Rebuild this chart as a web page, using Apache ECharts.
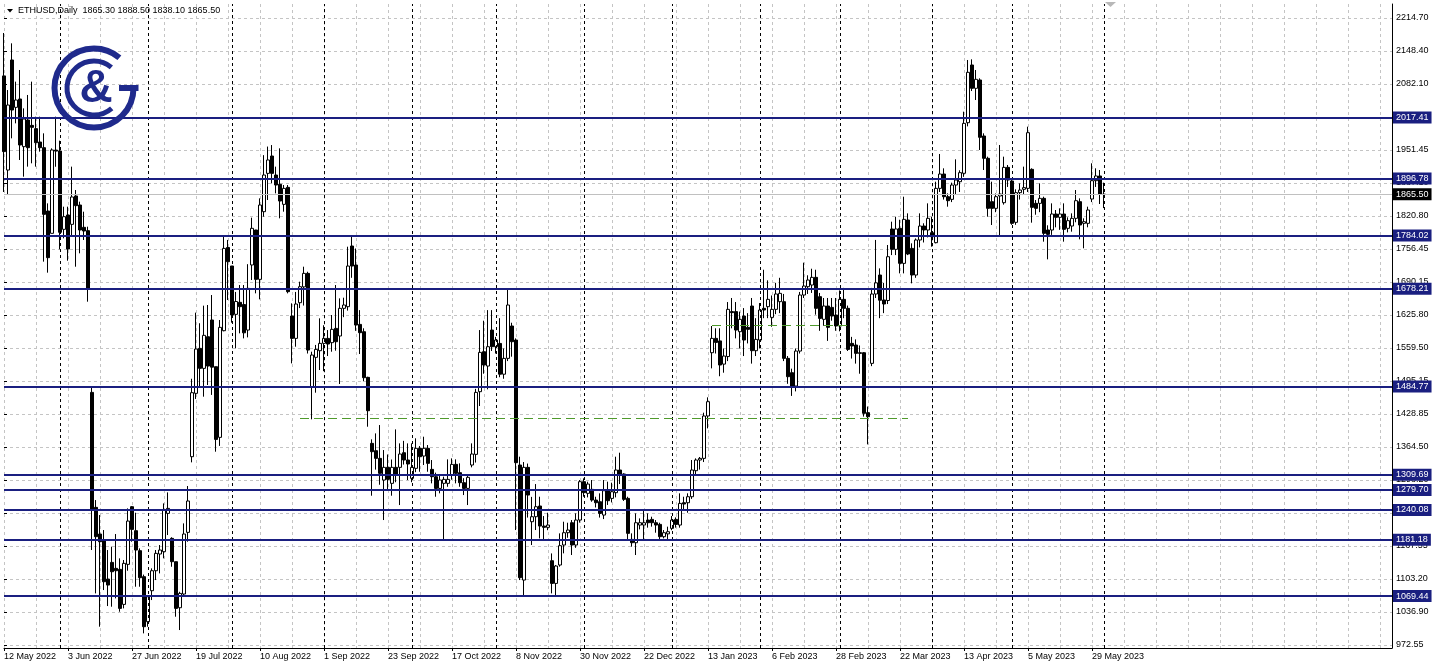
<!DOCTYPE html>
<html><head><meta charset="utf-8">
<script src="https://cdn.jsdelivr.net/npm/echarts@6.0.0/dist/echarts.min.js"></script>
<style>html,body{margin:0;padding:0;background:#fff;overflow:hidden}#c{width:1437px;height:669px}</style>
</head><body><div id="c"></div>
<script>
// ---------- DATA ----------
const symbolTitle = 'ETHUSD,Daily  1865.30 1888.50 1838.10 1865.50';
const open = [
2100,1913.5,2131.5,2037.7,2054.2,1959.8,2012.6,2002.0,1995.5,1969.0,
1957.8,1832.3,1788.1,1953.0,1951.2,1796.0,1824.4,1805.9,1862.1,1844.2,
1800.0,1793.4,1473.0,1245.2,1192.4,1178.5,1103.2,1136.2,1124.4,1122.4,
1053.0,1132.3,1246.5,1199.0,1159.4,1107.9,1018.7,1080.1,1119.7,1152.8,
1157.4,1233.3,1183.8,1137.6,1046.4,1073.5,1195.7,1345.6,1471.1,1560.2,
1520.6,1583.3,1616.4,1523.9,1383.9,1595.2,1760.0,1723.4,1627.6,1651.4,
1647.0,1596.5,1725.4,1794.7,1696.9,1831.0,1906.9,1941.3,1903.6,1885.2,
1845.5,1879.2,1624.3,1580.0,1650.7,1682.0,1708.8,1484.3,1542.4,1555.6,
1570.1,1580.0,1571.5,1599.8,1584.7,1639.5,1642.8,1763.0,1725.3,1607.7,
1593.2,1502.8,1372.0,1357.5,1342.3,1299.4,1324.5,1292.8,1324.5,1324.5,
1353.5,1339.0,1302.7,1322.5,1362.2,1346.9,1362.2,1320.5,1305.9,1282.8,
1292.8,1292.8,1309.3,1330.4,1313.9,1294.1,1282.8,1329.1,1350.2,1474.4,
1553.6,1525.2,1596.5,1563.5,1570.0,1509.0,1540.4,1604.5,1576.7,1329.1,
1101.2,1324.5,1216.8,1226.7,1247.9,1208.2,1205.6,1139.5,1094.6,1131.0,
1170.6,1195.0,1214.8,1170.6,1220.1,1296.1,1273.0,1280.9,1259.7,1256.4,
1230.0,1278.2,1263.0,1274.3,1319.2,1311.3,1263.0,1181.8,1175.2,1210.2,
1210.2,1220.1,1221.4,1214.8,1211.5,1187.1,1192.7,1203.6,1221.4,1210.2,
1254.4,1254.4,1266.3,1317.9,1339.0,1342.3,1426.2,1551.6,1580.0,1575.0,
1529.0,1544.0,1633.0,1633.0,1593.2,1624.3,1601.8,1644.1,1555.6,1576.7,
1639.5,1642.8,1621.6,1637.5,1652.7,1652.7,1540.4,1512.0,1485.6,1554.9,
1665.9,1682.4,1685.7,1700.9,1662.6,1617.7,1644.1,1641.4,1626.3,1604.5,
1657.3,1639.5,1570.1,1566.8,1551.6,1551.6,1432.8,1530.5,1667.9,1705.5,
1656.0,1655.0,1796.7,1756.4,1798.0,1728.6,1814.5,1758.3,1705.5,1774.9,
1802.6,1794.7,1789.4,1769.6,1877.2,1905.6,1860.7,1855.4,1883.8,1890.4,
1907.0,2007.3,2121.6,2075.4,2091.9,1980.9,1936.7,1850.8,1837.6,1862.1,
1848.8,1918.8,1891.8,1809.9,1868.7,1875.3,1877.2,1914.9,1847.5,1847.5,
1857.4,1794.7,1794.7,1826.4,1819.8,1826.4,1798.0,1802.6,1817.8,1850.8,
1807.9,1807.9,1856.1,1892.4,1901.7,1865.3];
const high = [
2185,2072,2164.5,2088.6,2111.7,2035.7,2062.2,2088.6,2019.2,2019.2,
1986.2,1847.5,1956.5,2019.2,1971.7,1840.9,1840.9,1920.2,1873.9,1850.8,
1831.0,1801.3,1484.3,1259.7,1230.0,1200.3,1160.7,1167.3,1192.4,1144.2,
1140.9,1243.2,1247.8,1234.6,1164.0,1112.0,1071.5,1124.4,1160.7,1170.6,
1253.1,1274.9,1186.0,1137.6,1078.0,1213.5,1287.5,1500.0,1631.0,1610.0,
1644.8,1646.1,1665.9,1523.9,1616.4,1783.0,1775.0,1723.4,1672.0,1685.7,
1685.7,1727.0,1819.1,1795.0,1857.4,1943.0,1960.0,1963.0,1920.2,1956.5,
1883.8,1883.8,1649.4,1672.0,1692.3,1722.0,1712.0,1553.6,1567.0,1619.7,
1606.0,1596.5,1626.3,1685.7,1659.3,1660.6,1761.6,1784.8,1758.0,1636.0,
1600.0,1504.0,1380.0,1391.8,1408.3,1358.8,1350.0,1340.0,1399.7,1372.0,
1377.0,1372.0,1372.0,1382.0,1366.7,1385.2,1368.7,1339.0,1314.0,1307.3,
1306.0,1340.3,1342.3,1340.3,1332.4,1303.0,1307.3,1372.0,1480.0,1596.5,
1615.0,1636.0,1636.0,1583.0,1620.0,1560.0,1679.0,1611.0,1580.0,1345.6,
1335.0,1332.0,1266.0,1291.4,1266.3,1228.0,1234.6,1154.0,1131.0,1193.7,
1216.8,1214.8,1220.1,1233.3,1299.4,1302.7,1296.0,1299.4,1266.3,1273.0,
1299.4,1296.1,1294.1,1345.6,1353.5,1312.6,1266.3,1193.7,1233.3,1223.4,
1239.9,1233.3,1226.7,1220.1,1214.8,1200.3,1207.0,1228.0,1225.4,1273.0,
1266.3,1273.0,1339.0,1342.3,1345.0,1432.8,1463.2,1604.5,1600.0,1600.0,
1560.0,1652.0,1660.0,1652.0,1633.0,1640.0,1630.0,1660.0,1620.0,1650.0,
1716.0,1695.0,1665.0,1690.0,1700.0,1668.0,1545.0,1520.0,1560.0,1672.0,
1730.0,1705.0,1718.0,1716.0,1670.0,1660.0,1660.0,1660.0,1660.0,1675.0,
1680.0,1645.0,1583.0,1578.0,1566.0,1553.0,1445.0,1680.0,1775.0,1718.7,
1690.0,1765.0,1811.2,1821.0,1815.0,1860.7,1827.7,1768.3,1778.0,1827.7,
1808.0,1847.5,1821.1,1890.4,1945.3,1916.9,1867.3,1888.5,1934.7,1913.0,
2029.1,2131.5,2132.8,2111.7,2095.2,1986.2,1940.0,1890.4,1867.0,1963.1,
1940.0,1923.5,1893.7,1875.3,1887.1,1920.2,1999.4,1916.9,1854.1,1887.1,
1860.7,1804.0,1847.5,1834.3,1837.6,1847.5,1819.8,1827.7,1873.9,1857.4,
1817.8,1840.9,1926.8,1916.9,1913.6,1888.5];
const low = [
1870,1864,1976.3,2006.0,1933.4,1900.3,1920.2,1926.8,1920.2,1949.9,
1732.0,1710.2,1788.1,1920.0,1756.4,1778.2,1733.9,1781.5,1722.0,1748.5,
1774.9,1652.7,1160.7,1074.8,1008.8,1081.4,1049.7,1048.4,1064.9,1038.5,
1045.1,1119.7,1177.2,1088.0,1088.0,995.6,1008.8,1061.6,1101.2,1114.4,
1144.2,1190.4,1127.6,1028.6,1002.2,1071.5,1177.2,1334.4,1460.0,1484.3,
1464.5,1487.6,1468.0,1355.5,1367.0,1594.0,1656.0,1611.1,1560.2,1590.0,
1580.0,1582.0,1695.6,1669.2,1657.3,1821.0,1854.1,1887.1,1867.3,1817.8,
1831.0,1669.2,1530.5,1563.5,1640.0,1645.0,1550.0,1419.6,1472.4,1517.3,
1515.0,1545.0,1553.6,1555.6,1489.6,1622.0,1635.0,1700.0,1595.0,1549.0,
1495.0,1405.0,1268.3,1320.0,1290.0,1220.1,1280.0,1268.3,1295.0,1249.8,
1330.0,1299.4,1295.0,1315.0,1315.8,1329.1,1315.8,1292.8,1266.3,1273.0,
1180.5,1286.0,1300.0,1292.8,1286.0,1269.6,1249.8,1324.5,1334.0,1446.0,
1510.0,1479.0,1555.0,1550.0,1503.0,1500.0,1535.0,1543.7,1200.3,1101.2,
1071.5,1225.0,1170.6,1200.3,1183.8,1181.8,1200.0,1074.8,1071.5,1127.7,
1154.1,1185.0,1150.8,1165.0,1215.0,1266.3,1265.0,1256.4,1245.0,1225.0,
1222.0,1250.0,1255.0,1265.0,1291.4,1258.0,1180.0,1167.3,1150.8,1201.6,
1181.8,1205.0,1207.0,1195.0,1180.5,1183.8,1180.5,1200.0,1205.0,1205.0,
1240.0,1234.6,1262.0,1310.0,1320.0,1335.0,1401.7,1520.6,1550.0,1505.0,
1512.0,1535.0,1600.0,1580.0,1560.0,1545.0,1570.0,1530.0,1545.0,1560.0,
1620.0,1620.0,1603.0,1628.0,1630.0,1535.0,1490.0,1466.0,1475.0,1550.0,
1660.0,1668.0,1670.0,1627.0,1595.0,1605.0,1575.0,1615.0,1595.0,1594.0,
1620.0,1555.0,1540.0,1530.0,1510.0,1425.0,1370.0,1525.0,1660.0,1620.0,
1630.0,1648.0,1745.0,1745.0,1708.8,1708.8,1745.0,1689.0,1700.0,1760.3,
1770.0,1780.0,1761.7,1768.3,1870.0,1855.0,1840.9,1850.0,1864.0,1870.0,
1900.0,2000.0,2070.0,2052.2,1953.2,1913.6,1821.1,1804.6,1830.0,1784.8,
1845.0,1880.0,1805.0,1805.0,1855.0,1865.0,1870.0,1809.2,1825.0,1830.0,
1771.6,1736.6,1785.0,1800.0,1795.0,1771.6,1790.0,1791.4,1810.0,1776.2,
1758.4,1800.0,1850.0,1880.0,1846.2,1838.1];
const close = [
1950,2042.3,2032.4,2052.2,1963.1,2014.6,1957.8,1998.1,1967.7,1957.8,
1825.7,1739.9,1953.2,1951.0,1790.1,1821.1,1757.0,1860.1,1842.9,1794.7,
1792.7,1677.1,1241.2,1187.1,1177.2,1097.9,1091.3,1117.7,1119.7,1045.1,
1134.3,1218.1,1201.6,1160.7,1105.9,1008.8,1068.2,1119.7,1154.1,1160.7,
1239.9,1243.2,1137.6,1045.1,1074.8,1192.4,1257.8,1472.4,1558.9,1520.6,
1586.0,1525.2,1523.0,1379.9,1601.8,1758.3,1731.9,1626.3,1653.0,1642.8,
1591.0,1679.1,1798.0,1696.9,1844.2,1903.6,1933.4,1906.9,1883.8,1852.1,
1877.2,1672.5,1580.0,1648.1,1682.4,1708.8,1556.9,1547.0,1558.2,1570.1,
1580.0,1568.8,1597.9,1573.4,1639.5,1646.1,1723.3,1723.3,1606.4,1591.3,
1502.1,1436.7,1355.5,1342.3,1312.6,1324.5,1300.7,1324.5,1310.0,1350.9,
1339.0,1331.1,1324.5,1362.2,1345.6,1362.2,1332.4,1306.0,1282.8,1299.4,
1300.7,1300.7,1330.4,1312.6,1294.1,1282.8,1304.7,1350.9,1473.0,1552.3,
1527.2,1563.5,1563.5,1576.7,1509.0,1540.4,1646.1,1573.4,1333.7,1105.9,
1324.5,1269.6,1226.7,1246.5,1208.2,1205.6,1210.2,1094.6,1129.0,1169.3,
1195.0,1200.3,1170.6,1220.1,1296.1,1274.3,1291.4,1259.7,1254.4,1233.3,
1278.2,1258.4,1276.2,1319.2,1309.3,1261.1,1193.7,1175.2,1214.8,1214.8,
1214.8,1214.8,1214.8,1210.2,1187.1,1195.0,1197.0,1220.1,1211.5,1253.1,
1251.8,1266.3,1319.2,1339.0,1342.3,1426.2,1454.6,1580.0,1572.0,1527.2,
1545.0,1637.5,1631.0,1596.5,1617.7,1576.7,1597.9,1555.6,1578.0,1636.2,
1636.2,1657.3,1637.5,1667.9,1669.2,1540.4,1504.1,1485.6,1554.9,1665.9,
1683.7,1695.6,1700.9,1639.5,1619.6,1644.1,1601.8,1624.3,1604.5,1657.3,
1639.5,1558.2,1564.9,1550.3,1550.3,1431.5,1424.8,1667.9,1690.0,1655.6,
1648.1,1741.8,1756.4,1796.7,1728.6,1815.8,1747.1,1705.5,1774.9,1802.6,
1794.7,1817.8,1781.5,1877.2,1905.6,1860.7,1852.8,1883.8,1893.7,1908.3,
2006.0,2107.1,2075.4,2093.2,1978.3,1936.7,1837.6,1837.6,1860.7,1866.0,
1918.8,1893.7,1807.9,1868.7,1873.9,1878.6,1987.5,1839.6,1837.6,1857.4,
1788.1,1786.1,1826.4,1819.8,1826.4,1796.0,1813.2,1817.8,1852.8,1804.6,
1811.2,1834.3,1892.4,1901.7,1866.0,1865.5];

const yTickLabels = ["972.55","1036.90","1103.20","1167.55","1233.85","1298.20","1364.50","1428.85","1495.15","1559.50","1625.80","1690.15","1756.45","1820.80","1887.10","1951.45","2017.75","2082.10","2148.40","2214.70"];
const xTickLabels = ["12 May 2022","3 Jun 2022","27 Jun 2022","19 Jul 2022","10 Aug 2022","1 Sep 2022","23 Sep 2022","17 Oct 2022","8 Nov 2022","30 Nov 2022","22 Dec 2022","13 Jan 2023","6 Feb 2023","28 Feb 2023","22 Mar 2023","13 Apr 2023","5 May 2023","29 May 2023"];
const levelPrices = [2017.41,1896.78,1784.02,1678.21,1484.77,1309.69,1279.70,1240.08,1181.18,1069.44];
const bidPrice = 1865.50;
const trendFrom = [74, 177];
const trendTo = [226, 211];
const trendPrice = [1421.3, 1605.5];

// ---------- AXIS SETUP ----------
const SLOTS = 348;
const LABEL_EVERY = 16;
const GRID_EVERY = 8;
const tickBase = 972.55, tickStep = (2214.70 - 972.55) / 19;
const categories = [];
(function(){ const d = new Date(Date.UTC(2022,4,12));
  while (categories.length < SLOTS) { const w = d.getUTCDay(); if (w !== 0 && w !== 6) categories.push(d.toISOString().slice(0,10)); d.setUTCDate(d.getUTCDate()+1); } })();
const candleData = open.map((o,i)=>[o, close[i], low[i], high[i]]);
const monthSep = [];
for (let i=1;i<open.length;i++) if (categories[i].slice(5,7)!==categories[i-1].slice(5,7)) monthSep.push(i);

const FONT = '"Liberation Sans", Arial, sans-serif';
const NAVY = '#1a1f80';
const LOGO = '#1f2a8c';
const GREEN = '#4f9a2c';
const lastLabelIdx = (xTickLabels.length-1)*LABEL_EVERY;

const mlData = [];
monthSep.forEach(i => mlData.push({xAxis: categories[i], lineStyle:{color:'#000', width:1, type:[3,3]}, label:{show:false}}));
levelPrices.forEach(v => mlData.push({yAxis: v, lineStyle:{color:NAVY, width:2, type:'solid'},
  label:{show:true, position:'end', distance:1, formatter: v.toFixed(2), color:'#fff', backgroundColor:NAVY, padding:[2,3,1,3], fontSize:9, fontFamily:FONT}}));
mlData.push({yAxis: bidPrice, lineStyle:{color:'#c0c0c0', width:1, type:'solid'},
  label:{show:true, position:'end', distance:1, formatter: bidPrice.toFixed(2), color:'#fff', backgroundColor:'#000', padding:[2,3,1,3], fontSize:9, fontFamily:FONT}});
trendFrom.forEach((f,k) => mlData.push([
  {coord:[categories[f], trendPrice[k]], lineStyle:{color:GREEN, width:1, type:[9,5]}, label:{show:false}},
  {coord:[categories[trendTo[k]], trendPrice[k]]}]));

const chart = echarts.init(document.getElementById('c'));
chart.setOption({
  animation:false,
  backgroundColor:'#ffffff',
  textStyle:{fontFamily:FONT},
  title:{text:symbolTitle, left:18, top:6, padding:0, textStyle:{fontSize:9, fontWeight:'normal', color:'#000', fontFamily:FONT}},
  grid:[
    {left:4, right:45, top:4, bottom:21, containLabel:false, outerBoundsMode:'none'},
    {left:4, right:45, top:-15, bottom:-9, containLabel:false, outerBoundsMode:'none'}
  ],
  xAxis:[
    {type:'category', gridIndex:0, data:categories, boundaryGap:false,
     axisLine:{show:true, onZero:false, lineStyle:{color:'#000', width:1}},
     axisTick:{show:true, length:3, interval:(i)=> i%LABEL_EVERY===0 && i<=lastLabelIdx, lineStyle:{color:'#000'}},
     axisLabel:{show:true, interval:(i)=> i%LABEL_EVERY===0 && i<=lastLabelIdx,
       formatter:(v,i)=> xTickLabels[i/LABEL_EVERY] || '', align:'left', fontSize:9, color:'#000', margin:4, fontFamily:FONT},
     splitLine:{show:true, interval:(i)=> i%GRID_EVERY===0, lineStyle:{color:'#c4c4c4', width:1, type:[3,3]}}},
    {type:'value', gridIndex:1, show:false, min:0, max:1}
  ],
  yAxis:[
    {type:'value', gridIndex:0, position:'right', min: tickBase - 3*tickStep/33, max: tickBase + 19*tickStep + 14*tickStep/33,
     axisLine:{show:true, lineStyle:{color:'#000'}}, axisTick:{show:false}, axisLabel:{show:false}, splitLine:{show:false}},
    {type:'value', gridIndex:1, position:'right', min: tickBase - tickStep, max: tickBase + 20*tickStep, interval: tickStep,
     axisLine:{show:false}, axisTick:{show:true, length:3, lineStyle:{color:'#000'}},
     axisLabel:{show:true, margin:4, fontSize:9, color:'#000', fontFamily:FONT,
       formatter:(v)=>{ const k = Math.round((v - tickBase)/tickStep); return (k>=0 && k<yTickLabels.length) ? yTickLabels[k] : ''; }},
     splitLine:{show:true, lineStyle:{color:'#c4c4c4', width:1, type:[3,3]}}}
  ],
  series:[{
    type:'candlestick', xAxisIndex:0, yAxisIndex:0, data:candleData, barWidth:3,
    itemStyle:{color:'#ffffff', color0:'#000000', borderColor:'#000000', borderColor0:'#000000', borderWidth:1},
    markLine:{silent:true, symbol:['none','none'], animation:false, precision:2, data: mlData}
  }],
  graphic:[
    {type:'polygon', z:100, shape:{points:[[7,9],[13,9],[10,12.5]]}, style:{fill:'#000'}},
    {type:'polygon', z:100, shape:{points:[[1105,2],[1116,2],[1110.5,7]]}, style:{fill:'#b8b8b8'}},
    {type:'group', z:100, children:[
      {type:'arc', z:101, shape:{cx:94, cy:88, r:39.5, startAngle:0, endAngle:310*Math.PI/180, clockwise:true}, style:{stroke:LOGO, lineWidth:6, fill:null}},
      {type:'arc', z:101, shape:{cx:94, cy:88, r:27, startAngle:49*Math.PI/180, endAngle:310*Math.PI/180, clockwise:true}, style:{stroke:LOGO, lineWidth:5, fill:null}},
      {type:'rect', z:101, shape:{x:119, y:85, width:19.5, height:6}, style:{fill:LOGO}},
      {type:'text', z:101, x:96, y:89, style:{text:'&', fontSize:46, fontWeight:'bold', fontFamily:FONT, fill:LOGO, align:'center', verticalAlign:'middle', textAlign:'center', textVerticalAlign:'middle'}}
    ]}
  ]
});
</script>
</body></html>
